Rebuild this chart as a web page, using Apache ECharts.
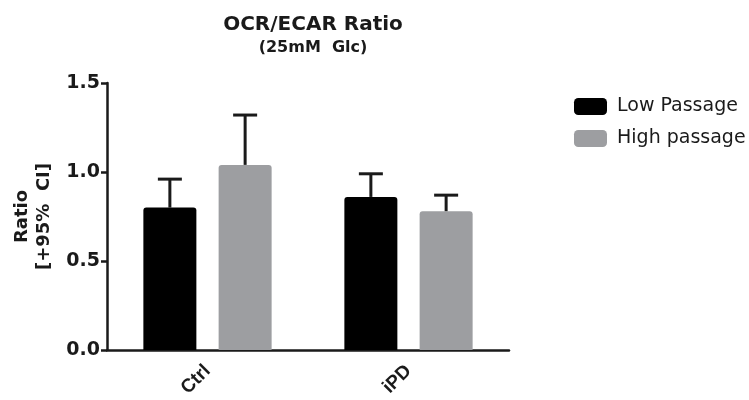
<!DOCTYPE html>
<html>
<head>
<meta charset="utf-8">
<title>OCR/ECAR Ratio</title>
<script src="https://cdn.jsdelivr.net/npm/echarts@6/dist/echarts.min.js"></script>
<style>
  html, body { margin: 0; padding: 0; background: #fff; }
  #chart { width: 749px; height: 400px; }
</style>
</head>
<body>
<div id="chart"></div>
<script>
// data
var categories = ['Ctrl', 'iPD'];
var seriesNames = ['Low Passage', 'High passage'];
var lowPassage = [0.80, 0.86];
var highPassage = [1.04, 0.78];
var lowPassageUpper = [0.96, 0.99];   // upper 95% CI
var highPassageUpper = [1.32, 0.87];
var yTicks = [0, 0.5, 1.0, 1.5];

var BAR_W = 53;
var BAR_GAP = 0.42;
var ink = '#1a1a1a';

// upper whisker only, like the original
function errorBar(side) {
  return function (params, api) {
    var base = api.coord([api.value(0), api.value(1)]);
    var top = api.coord([api.value(0), api.value(2)]);
    var x = base[0] + side * (BAR_W + BAR_W * BAR_GAP) / 2;
    var st = { stroke: ink, lineWidth: 3 };
    return {
      type: 'group',
      children: [
        { type: 'line', shape: { x1: x, y1: base[1], x2: x, y2: top[1] }, style: st },
        { type: 'line', shape: { x1: x - 12, y1: top[1], x2: x + 12, y2: top[1] }, style: st }
      ]
    };
  };
}

function ciData(vals, ups) {
  return vals.map(function (v, i) { return [i, v, ups[i]]; });
}

var myChart = echarts.init(document.getElementById('chart'));
var option = {
  animation: false,
  title: {
    text: 'OCR/ECAR Ratio',
    subtext: '(25mM  Glc)',
    left: 308,
    top: 10,
    textAlign: 'center',
    itemGap: 5,
    textStyle: { fontFamily: 'DejaVu Sans', fontWeight: 'bold', fontSize: 20, color: ink },
    subtextStyle: { fontFamily: 'DejaVu Sans', fontWeight: 'bold', fontSize: 16, color: ink }
  },
  legend: {
    data: seriesNames,
    orient: 'vertical',
    left: 569,
    top: 92,
    itemWidth: 33,
    itemHeight: 17,
    itemGap: 13,
    icon: 'roundRect',
    textStyle: { fontFamily: 'DejaVu Sans', fontSize: 19, color: ink, padding: [0, 0, 0, 5] }
  },
  grid: { left: 107, right: 240, top: 83, bottom: 49 },
  xAxis: {
    type: 'category',
    data: categories,
    axisLine: { lineStyle: { color: ink, width: 2.5 } },
    axisTick: { alignWithLabel: true, length: 6, lineStyle: { color: ink, width: 2.5 } },
    axisLabel: {
      rotate: 45,
      margin: 18,
      fontFamily: 'Liberation Sans',
      fontWeight: 'bold',
      fontSize: 19,
      color: ink
    }
  },
  yAxis: {
    type: 'value',
    min: yTicks[0],
    max: yTicks[yTicks.length - 1],
    interval: 0.5,
    name: 'Ratio\n[+95%  CI]',
    nameLocation: 'middle',
    nameGap: 50,
    nameTextStyle: {
      fontFamily: 'DejaVu Sans',
      fontWeight: 'bold',
      fontSize: 18,
      lineHeight: 22,
      color: ink
    },
    splitLine: { show: false },
    axisLine: { show: true, lineStyle: { color: ink, width: 2.5 } },
    axisTick: { show: true, length: 6, lineStyle: { color: ink, width: 2.5 } },
    axisLabel: {
      margin: 7,
      fontFamily: 'DejaVu Sans',
      fontWeight: 'bold',
      fontSize: 19,
      color: ink,
      formatter: function (v) { return v.toFixed(1); }
    }
  },
  series: [
    {
      name: seriesNames[0],
      type: 'bar',
      data: lowPassage,
      barWidth: BAR_W,
      barGap: (BAR_GAP * 100) + '%',
      itemStyle: { color: '#000000', borderRadius: [3, 3, 0, 0] }
    },
    {
      name: seriesNames[1],
      type: 'bar',
      data: highPassage,
      barWidth: BAR_W,
      itemStyle: { color: '#9d9ea1', borderRadius: [3, 3, 0, 0] }
    },
    {
      type: 'custom',
      renderItem: errorBar(-1),
      data: ciData(lowPassage, lowPassageUpper),
      encode: { x: 0, y: [1, 2] },
      z: 3
    },
    {
      type: 'custom',
      renderItem: errorBar(1),
      data: ciData(highPassage, highPassageUpper),
      encode: { x: 0, y: [1, 2] },
      z: 3
    }
  ]
};
myChart.setOption(option);
</script>
</body>
</html>
